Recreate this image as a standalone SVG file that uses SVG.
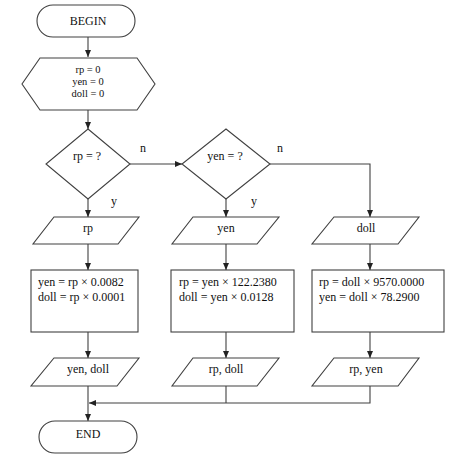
<svg xmlns="http://www.w3.org/2000/svg" width="474" height="462" viewBox="0 0 474 462">
<style>
.s{fill:#fff;stroke:#404040;stroke-width:1.1}
.c{fill:none;stroke:#404040;stroke-width:1.1}
text{font-family:"Liberation Serif","Times New Roman",serif;font-size:12px;fill:#111}
.m{text-anchor:middle}
.sm{font-size:10.5px}
</style>
<defs>
<marker id="ah" markerUnits="userSpaceOnUse" markerWidth="8" markerHeight="7" refX="7" refY="3" orient="auto">
<path d="M0,0 L7,3 L0,6 z" fill="#222"/>
</marker>
</defs>
<rect width="474" height="462" fill="#fff"/>
<g id="connectors">
<path class="c" d="M88,37 V57" marker-end="url(#ah)"/>
<path class="c" d="M88,110 V129" marker-end="url(#ah)"/>
<path class="c" d="M130,164 H182" marker-end="url(#ah)"/>
<path class="c" d="M270,164 H370 V217" marker-end="url(#ah)"/>
<path class="c" d="M88,199 V217" marker-end="url(#ah)"/>
<path class="c" d="M226,199 V217" marker-end="url(#ah)"/>
<path class="c" d="M88,244 V270" marker-end="url(#ah)"/>
<path class="c" d="M226,244 V270" marker-end="url(#ah)"/>
<path class="c" d="M370,244 V270" marker-end="url(#ah)"/>
<path class="c" d="M88,332 V358" marker-end="url(#ah)"/>
<path class="c" d="M226,332 V358" marker-end="url(#ah)"/>
<path class="c" d="M370,332 V358" marker-end="url(#ah)"/>
<path class="c" d="M226,386 V403"/>
<path class="c" d="M370,386 V403 H89" marker-end="url(#ah)"/>
<path class="c" d="M88,386 V421" marker-end="url(#ah)"/>
<text x="143" y="152" class="m">n</text>
<text x="280" y="152" class="m">n</text>
<text x="114" y="205" class="m">y</text>
<text x="254" y="205" class="m">y</text>
</g>
<g id="begin">
<rect class="s" x="37" y="5" width="98" height="32" rx="16"/>
<text x="88" y="25" class="m">BEGIN</text>
</g>
<g id="init">
<polygon class="s" points="40,58 137,58 155,84 137,110 40,110 22,84"/>
<text x="88" y="73" class="m sm">rp = 0</text>
<text x="88" y="85" class="m sm">yen = 0</text>
<text x="88" y="97" class="m sm">doll = 0</text>
</g>
<g id="dec-rp">
<polygon class="s" points="88,129 130,164 88,199 46,164"/>
<text x="87" y="160" class="m">rp = ?</text>
</g>
<g id="dec-yen">
<polygon class="s" points="226,129 270,164 226,199 182,164"/>
<text x="225" y="160" class="m">yen = ?</text>
</g>
<g id="in-rp">
<polygon class="s" points="54,217 139,217 118,244 33,244"/>
<text x="88" y="232" class="m">rp</text>
</g>
<g id="in-yen">
<polygon class="s" points="193,217 279,217 257,244 172,244"/>
<text x="226" y="232" class="m">yen</text>
</g>
<g id="in-doll">
<polygon class="s" points="334,217 419,217 398,244 312,244"/>
<text x="366" y="232" class="m">doll</text>
</g>
<g id="calc-rp">
<rect class="s" x="31" y="270" width="107" height="62"/>
<text x="38" y="286">yen = rp × 0.0082</text>
<text x="38" y="301">doll = rp × 0.0001</text>
</g>
<g id="calc-yen">
<rect class="s" x="171" y="270" width="123" height="62"/>
<text x="179" y="286">rp = yen × 122.2380</text>
<text x="179" y="301">doll = yen × 0.0128</text>
</g>
<g id="calc-doll">
<rect class="s" x="312" y="270" width="132" height="62"/>
<text x="319" y="286">rp = doll × 9570.0000</text>
<text x="319" y="301">yen =  doll × 78.2900</text>
</g>
<g id="out-1">
<polygon class="s" points="54,358 139,358 117,386 31,386"/>
<text x="88" y="373" class="m">yen, doll</text>
</g>
<g id="out-2">
<polygon class="s" points="193,358 279,358 257,386 172,386"/>
<text x="226" y="373" class="m">rp, doll</text>
</g>
<g id="out-3">
<polygon class="s" points="334,358 419,358 398,386 312,386"/>
<text x="366" y="373" class="m">rp, yen</text>
</g>
<g id="end">
<rect class="s" x="39" y="421" width="98" height="32" rx="16"/>
<text x="88" y="438" class="m">END</text>
</g>
</svg>
